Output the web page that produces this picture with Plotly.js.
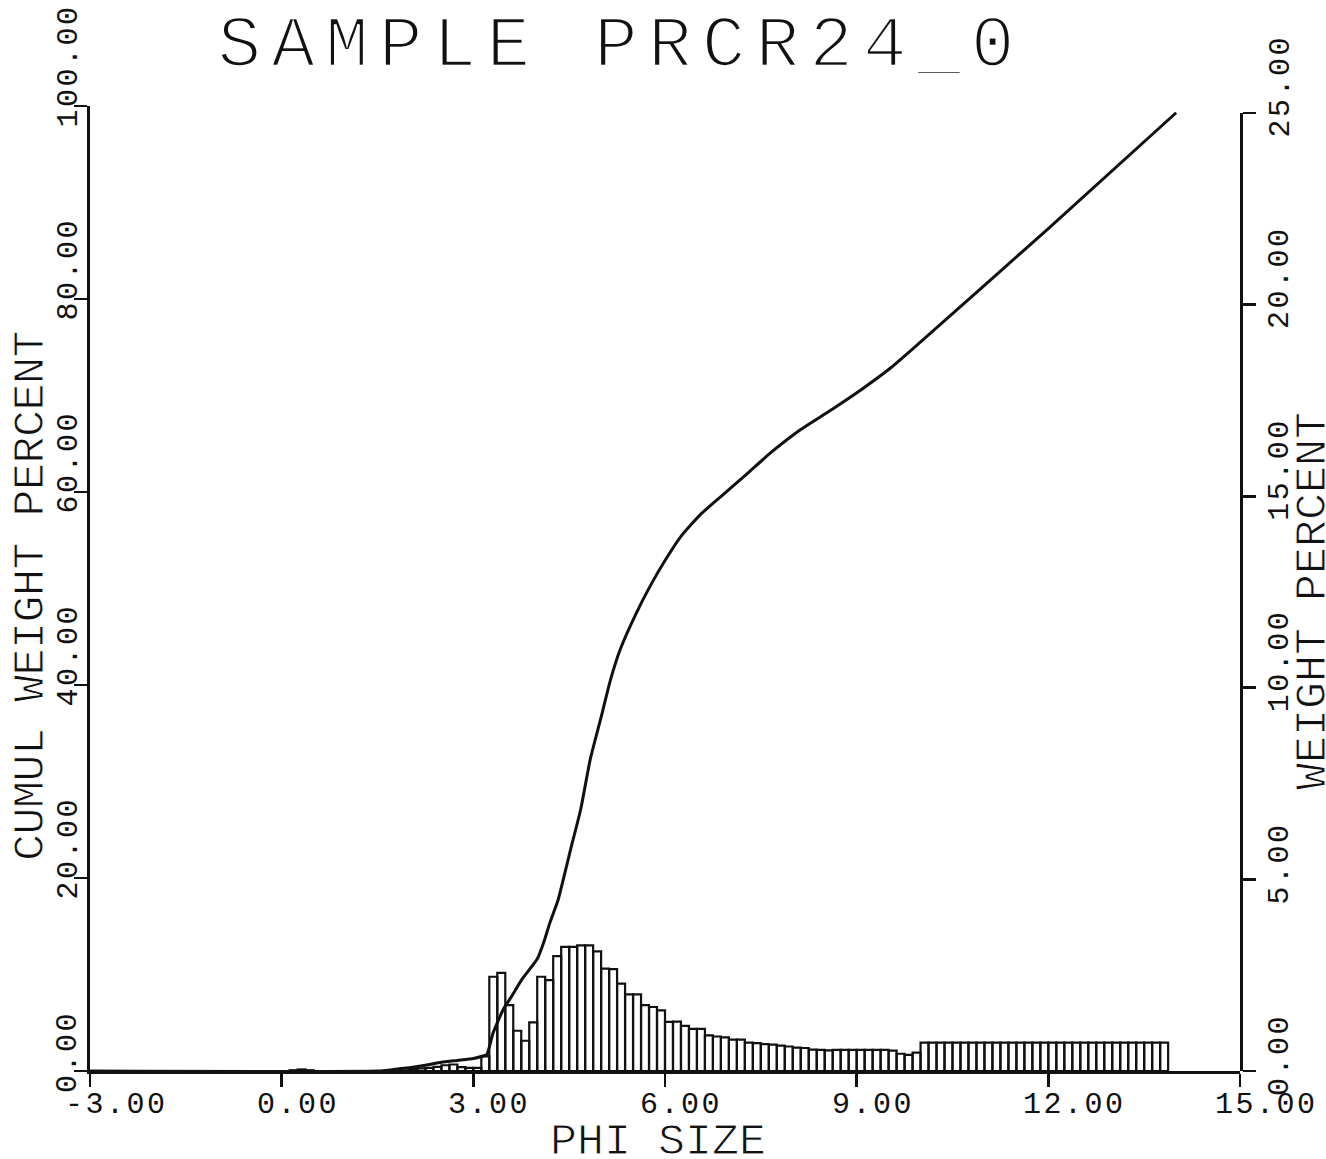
<!DOCTYPE html>
<html>
<head>
<meta charset="utf-8">
<script src="https://cdn.plot.ly/plotly-3.0.1.min.js"></script>
<style>
html, body { margin: 0; padding: 0; background: #ffffff; }
#chart { width: 1326px; height: 1159px; }
</style>
</head>
<body>
<div id="chart"></div>
<script>
// ---------------- data ----------------
const chartTitle = "SAMPLE PRCR24_0";
const xTitle = "PHI SIZE";
const yLeftTitle = "CUMUL WEIGHT PERCENT";
const yRightTitle = "WEIGHT PERCENT";

const xTicks = [-3, 0, 3, 6, 9, 12, 15];
const xTickLabels = ["-3.00", "0.00", "3.00", "6.00", "9.00", "12.00", "15.00"];
const yLeftTicks = [0, 20, 40, 60, 80, 100];
const yLeftTickLabels = ["0.00", "20.00", "40.00", "60.00", "80.00", "100.00"];
const yRightTicks = [0, 5, 10, 15, 20, 25];
const yRightTickLabels = ["0.00", "5.00", "10.00", "15.00", "20.00", "25.00"];

// histogram: left edge of each 1/8-phi class (phi) and weight percent
const binLeftPhi = [
  0.125, 0.25, 0.375,
  1.75, 1.875, 2.0, 2.125, 2.25, 2.375, 2.5, 2.625, 2.75, 2.875, 3.0, 3.125,
  3.25, 3.375, 3.5, 3.625, 3.75, 3.875, 4.0, 4.125, 4.25, 4.375,
  4.5, 4.625, 4.75, 4.875, 5.0, 5.125, 5.25, 5.375, 5.5, 5.625,
  5.75, 5.875, 6.0, 6.125, 6.25, 6.375, 6.5, 6.625, 6.75, 6.875,
  7.0, 7.125, 7.25, 7.375, 7.5, 7.625, 7.75, 7.875, 8.0, 8.125,
  8.25, 8.375, 8.5, 8.625, 8.75, 8.875, 9.0, 9.125, 9.25, 9.375,
  9.5, 9.625, 9.75, 9.875, 10.0, 10.125, 10.25, 10.375, 10.5, 10.625,
  10.75, 10.875, 11.0, 11.125, 11.25, 11.375, 11.5, 11.625, 11.75, 11.875,
  12.0, 12.125, 12.25, 12.375, 12.5, 12.625, 12.75, 12.875, 13.0, 13.125,
  13.25, 13.375, 13.5, 13.625, 13.75
];
const binWeightPct = [
  0.02, 0.04, 0.02,
  0.03, 0.06, 0.05, 0.07, 0.08, 0.11, 0.15, 0.17, 0.10, 0.08, 0.08, 0.38,
  2.46, 2.56, 1.72, 1.05, 0.79, 1.27, 2.46, 2.37, 3.00, 3.24,
  3.24, 3.28, 3.28, 3.12, 2.67, 2.66, 2.28, 2.00, 2.00, 1.72,
  1.67, 1.58, 1.28, 1.29, 1.18, 1.10, 1.10, 0.93, 0.90, 0.88,
  0.82, 0.82, 0.74, 0.73, 0.70, 0.69, 0.66, 0.64, 0.61, 0.60,
  0.56, 0.55, 0.54, 0.55, 0.55, 0.55, 0.55, 0.55, 0.55, 0.55,
  0.53, 0.45, 0.42, 0.48, 0.74, 0.74, 0.74, 0.74, 0.74, 0.74,
  0.74, 0.74, 0.74, 0.74, 0.74, 0.74, 0.74, 0.74, 0.74, 0.74,
  0.74, 0.74, 0.74, 0.74, 0.74, 0.74, 0.74, 0.74, 0.74, 0.74,
  0.74, 0.74, 0.74, 0.74, 0.74
];
const binWidthPhi = 0.125;

// cumulative curve (phi, cumulative weight percent)
const cumPhi = [
  -3.0, 1.5, 1.75, 2.0, 2.25, 2.5, 2.75, 3.0, 3.125, 3.21,
  3.31, 3.47, 3.6, 3.76, 4.0, 4.1, 4.2, 4.33, 4.52, 4.68,
  4.83, 4.99, 5.15, 5.30, 5.54, 5.78, 6.01, 6.25, 6.56, 6.87,
  7.27, 7.66, 8.13, 8.60, 9.07, 9.54, 10.01, 12.0, 14.0
];
const cumPct = [
  0.0, 0.0, 0.15, 0.35, 0.6, 0.9, 1.1, 1.3, 1.5, 1.7,
  3.96, 6.4, 7.75, 9.5, 11.6, 13.3, 15.4, 17.8, 22.9, 27.1,
  32.3, 36.4, 40.6, 43.7, 47.3, 50.4, 53.0, 55.4, 57.7, 59.5,
  61.8, 64.1, 66.5, 68.5, 70.6, 72.9, 75.6, 87.3, 99.3
];

// ---------------- styling ----------------
const FONT = "Liberation Mono, DejaVu Sans Mono, monospace";
const INK = "#111111";
const AXW = 2.6;

function spaced(text, px, thin) {
  let st = 'letter-spacing:' + px + 'px';
  if (thin) st += ';stroke:#ffffff;stroke-width:' + thin + 'px';
  return '<span style="' + st + '">' + text + '</span>';
}

const tickFont = {family: FONT, size: 30, color: INK};
const annotations = [];
// x tick labels (start of label a little left of the tick)
xTicks.forEach((v, i) => annotations.push({
  x: v, xref: 'x', y: 0, yref: 'paper',
  text: spaced(xTickLabels[i], 2.5), showarrow: false,
  xanchor: 'left', yanchor: 'middle', xshift: -25, yshift: -34,
  borderpad: 0, borderwidth: 0, font: tickFont
}));
// left y tick labels (rotated, text starts just below tick)
yLeftTicks.forEach((v, i) => annotations.push({
  x: 0, xref: 'paper', y: v, yref: 'y',
  text: spaced(yLeftTickLabels[i], 2.5), showarrow: false, textangle: -90,
  xanchor: 'center', yanchor: 'bottom', xshift: -22, yshift: -22,
  borderpad: 0, borderwidth: 0, font: tickFont
}));
// right y tick labels
yRightTicks.forEach((v, i) => annotations.push({
  x: 1, xref: 'paper', y: v, yref: 'y2',
  text: spaced(yRightTickLabels[i], 2.5), showarrow: false, textangle: -90,
  xanchor: 'center', yanchor: 'bottom', xshift: 40, yshift: -25,
  borderpad: 0, borderwidth: 0, font: tickFont
}));
// axis titles
annotations.push({
  x: 0.4939, xref: 'paper', y: 0, yref: 'paper',
  text: spaced(xTitle, 0, 1), showarrow: false,
  xanchor: 'center', yanchor: 'middle', yshift: -71,
  borderpad: 0, borderwidth: 0,
  font: {family: FONT, size: 45, color: INK}
});
annotations.push({
  x: 0, xref: 'paper', y: 0.4922, yref: 'paper',
  text: spaced(yLeftTitle, -0.5, 1), showarrow: false, textangle: -90,
  xanchor: 'center', yanchor: 'middle', xshift: -59,
  borderpad: 0, borderwidth: 0,
  font: {family: FONT, size: 45, color: INK}
});
annotations.push({
  x: 1, xref: 'paper', y: 0.487, yref: 'paper',
  text: spaced(yRightTitle, 0, 1), showarrow: false, textangle: -90,
  xanchor: 'center', yanchor: 'middle', xshift: 73,
  borderpad: 0, borderwidth: 0,
  font: {family: FONT, size: 45, color: INK}
});

const traces = [
  {
    type: 'scatter', mode: 'lines',
    x: cumPhi, y: cumPct,
    xaxis: 'x', yaxis: 'y',
    line: {color: INK, width: 3, shape: 'spline', smoothing: 0.5},
    hoverinfo: 'skip', cliponaxis: false
  },
  {
    type: 'bar',
    x: binLeftPhi, y: binWeightPct,
    width: binWidthPhi, offset: 0,
    xaxis: 'x2', yaxis: 'y2',
    marker: {color: 'rgba(255,255,255,0)', line: {color: INK, width: 2.2}},
    hoverinfo: 'skip', cliponaxis: false
  }
];

const commonAxis = {
  showgrid: false, zeroline: false, showline: true,
  linecolor: INK, linewidth: AXW,
  ticks: 'outside', ticklen: 13, tickwidth: AXW, tickcolor: INK,
  showticklabels: false, tickmode: 'array', fixedrange: true
};

const layout = {
  width: 1326, height: 1159,
  margin: {l: 90, r: 86, t: 106, b: 88, pad: 0},
  paper_bgcolor: '#ffffff', plot_bgcolor: 'rgba(0,0,0,0)',
  showlegend: false,
  title: {
    text: spaced(chartTitle, 10, 2.6),
    x: 621 / 1326, xref: 'container', xanchor: 'center',
    y: 1 - 40 / 1159, yref: 'container', yanchor: 'middle',
    font: {family: FONT, size: 73, color: INK}
  },
  xaxis: Object.assign({}, commonAxis, {
    range: [-3, 15], domain: [0, 1], anchor: 'y', tickvals: xTicks
  }),
  yaxis: Object.assign({}, commonAxis, {
    range: [0, 100], domain: [0, 1], anchor: 'x', tickvals: yLeftTicks
  }),
  xaxis2: {
    range: [-3, 15], domain: [0, 1], anchor: 'y2', visible: false, fixedrange: true
  },
  yaxis2: Object.assign({}, commonAxis, {
    range: [0, 25], domain: [0, 958 / 965], anchor: 'x2', side: 'right', tickvals: yRightTicks
  }),
  annotations: annotations
};

Plotly.newPlot('chart', traces, layout, {staticPlot: true, displayModeBar: false});
</script>
</body>
</html>
